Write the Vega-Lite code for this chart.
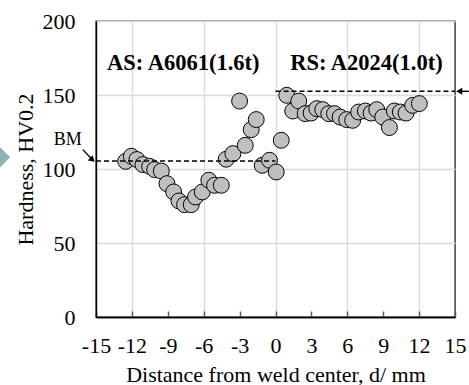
{
  "$schema": "https://vega.github.io/schema/vega-lite/v6.json",
  "width": 359,
  "height": 296,
  "autosize": {"type": "none"},
  "padding": {"left": 96, "top": 21, "right": 14, "bottom": 68},
  "background": "white",
  "config": {
    "font": "Liberation Serif",
    "view": {"stroke": "#333333", "strokeWidth": 1.4},
    "axis": {
      "labelFont": "Liberation Serif",
      "titleFont": "Liberation Serif",
      "labelFontSize": 22,
      "titleFontSize": 22,
      "labelColor": "#000000",
      "titleColor": "#000000",
      "titleFontWeight": "normal",
      "gridColor": "#d9d9d9",
      "gridWidth": 1.3,
      "domainColor": "#000000",
      "domainWidth": 1.4,
      "labelOverlap": false
    }
  },
  "resolve": {"axis": {"x": "independent"}},
  "datasets": {
    "pts": [
      {"d": -12.52, "hv": 105.2}, {"d": -12.05, "hv": 108.6}, {"d": -11.58, "hv": 106.4},
      {"d": -11.08, "hv": 103.0}, {"d": -10.52, "hv": 101.8}, {"d": -10.1, "hv": 99.6},
      {"d": -9.54, "hv": 98.6}, {"d": -9.07, "hv": 90.1}, {"d": -8.51, "hv": 84.5},
      {"d": -8.07, "hv": 78.4}, {"d": -7.6, "hv": 75.9}, {"d": -7.04, "hv": 75.9},
      {"d": -6.68, "hv": 81.1}, {"d": -6.12, "hv": 84.5}, {"d": -5.57, "hv": 92.4},
      {"d": -5.09, "hv": 89.0}, {"d": -4.53, "hv": 89.0}, {"d": -4.12, "hv": 106.6},
      {"d": -3.56, "hv": 110.4}, {"d": -3.0, "hv": 145.9}, {"d": -2.53, "hv": 116.0},
      {"d": -2.03, "hv": 126.6}, {"d": -1.61, "hv": 133.4}, {"d": -1.11, "hv": 102.5},
      {"d": -0.5, "hv": 105.9}, {"d": 0.06, "hv": 98.0}, {"d": 0.48, "hv": 119.4},
      {"d": 0.94, "hv": 149.8}, {"d": 1.44, "hv": 139.2}, {"d": 1.94, "hv": 145.9},
      {"d": 2.48, "hv": 137.4}, {"d": 2.98, "hv": 137.8}, {"d": 3.45, "hv": 140.8},
      {"d": 3.95, "hv": 140.1}, {"d": 4.45, "hv": 137.4}, {"d": 4.93, "hv": 137.4},
      {"d": 5.4, "hv": 135.1}, {"d": 5.95, "hv": 133.4}, {"d": 6.45, "hv": 132.9},
      {"d": 6.95, "hv": 138.5}, {"d": 7.51, "hv": 139.2}, {"d": 7.99, "hv": 137.8},
      {"d": 8.46, "hv": 140.1}, {"d": 8.96, "hv": 135.1}, {"d": 9.52, "hv": 128.0},
      {"d": 9.93, "hv": 139.2}, {"d": 10.43, "hv": 138.5}, {"d": 10.91, "hv": 137.8},
      {"d": 11.46, "hv": 143.0}, {"d": 12.02, "hv": 144.2}
    ],
    "bm": [
      {"d1": -15, "d2": 0, "hv": 105.4},
      {"d1": 0, "d2": 15, "hv": 152.5}
    ],
    "arrows": [
      {"d1": -16.1, "h1": 113.1, "d2": -15.3, "h2": 106.2, "shape": "triangle-right", "ang": 42},
      {"d1": 16.15, "h1": 152.5, "d2": 15.35, "h2": 152.5, "shape": "triangle-left", "ang": 0}
    ],
    "bold": [
      {"d": -7.7, "hv": 171.6, "txt": "AS: A6061(1.6t)"},
      {"d": 7.6, "hv": 171.6, "txt": "RS: A2024(1.0t)"}
    ],
    "bmlabel": [
      {"d": -17.36, "hv": 119.4, "txt": "BM"}
    ],
    "deco": [{"d": -23.2, "hv": 107.9}]
  },
  "layer": [
    {
      "data": {"name": "bm"},
      "mark": {"type": "rule", "color": "#000000", "strokeWidth": 1.4, "strokeDash": [5, 3], "opacity": 0},
      "encoding": {
        "x": {
          "field": "d1", "type": "quantitative",
          "scale": {"domain": [-15, 15], "nice": false, "zero": false},
          "axis": {
            "orient": "bottom",
            "values": [-12, -6, 0, 6, 12],
            "labelExpr": "'' + datum.value",
            "title": null,
            "tickSize": -6,
            "tickColor": "#595959",
            "tickWidth": 1.5,
            "labelPadding": 24,
            "labelOverlap": false,
            "labelFlush": false,
            "labelBound": false
          }
        },
        "x2": {"field": "d2"},
        "y": {"field": "hv", "type": "quantitative"}
      }
    },
    {
      "data": {"name": "pts"},
      "mark": {"type": "point", "shape": "circle", "filled": true, "fill": "#bfbfbf", "stroke": "#000000", "strokeWidth": 1, "size": 254, "opacity": 1},
      "encoding": {
        "x": {
          "field": "d", "type": "quantitative",
          "scale": {"domain": [-15, 15], "nice": false, "zero": false},
          "axis": {
            "orient": "bottom",
            "values": [-15, -9, -3, 3, 9, 15],
            "labelExpr": "'' + datum.value",
            "title": "Distance from weld center, d/ mm",
            "tickSize": -6,
            "tickColor": "#595959",
            "tickWidth": 1.5,
            "labelPadding": 24,
            "titlePadding": 8,
            "labelOverlap": false,
            "labelFlush": false,
            "labelBound": false
          }
        },
        "y": {
          "field": "hv", "type": "quantitative",
          "scale": {"domain": [0, 200], "nice": false},
          "axis": {
            "values": [0, 50, 100, 150, 200],
            "title": "Hardness,  HV0.2",
            "ticks": false,
            "labelPadding": 21,
            "titlePadding": 5,
            "labelFlush": false
          }
        }
      }
    },
    {
      "data": {"name": "bm"},
      "mark": {"type": "rule", "color": "#000000", "strokeWidth": 1.4, "strokeDash": [5, 3]},
      "encoding": {
        "x": {"field": "d1", "type": "quantitative", "axis": null},
        "x2": {"field": "d2"},
        "y": {"field": "hv", "type": "quantitative"}
      }
    },
    {
      "data": {"name": "arrows"},
      "mark": {"type": "rule", "color": "#000000", "strokeWidth": 1.4},
      "encoding": {
        "x": {"field": "d1", "type": "quantitative", "axis": null},
        "x2": {"field": "d2"},
        "y": {"field": "h1", "type": "quantitative"},
        "y2": {"field": "h2"}
      }
    },
    {
      "data": {"name": "arrows"},
      "mark": {"type": "point", "filled": true, "fill": "#000000", "stroke": null, "size": 50, "opacity": 1},
      "encoding": {
        "x": {"field": "d2", "type": "quantitative", "axis": null},
        "y": {"field": "h2", "type": "quantitative"},
        "shape": {"field": "shape", "type": "nominal", "scale": null},
        "angle": {"field": "ang", "type": "quantitative", "scale": null}
      }
    },
    {
      "data": {"name": "bold"},
      "mark": {"type": "text", "font": "Liberation Serif", "fontWeight": "bold", "fontSize": 22.5, "align": "center", "baseline": "middle", "color": "#000000"},
      "encoding": {
        "x": {"field": "d", "type": "quantitative", "axis": null},
        "y": {"field": "hv", "type": "quantitative"},
        "text": {"field": "txt"}
      }
    },
    {
      "data": {"name": "bmlabel"},
      "mark": {"type": "text", "font": "Liberation Serif", "fontSize": 18, "align": "center", "baseline": "middle", "color": "#000000"},
      "encoding": {
        "x": {"field": "d", "type": "quantitative", "axis": null},
        "y": {"field": "hv", "type": "quantitative"},
        "text": {"field": "txt"}
      }
    },
    {
      "data": {"name": "deco"},
      "mark": {"type": "point", "shape": "diamond", "filled": true, "fill": "#8fb1b1", "stroke": null, "size": 600, "opacity": 1},
      "encoding": {
        "x": {"field": "d", "type": "quantitative", "axis": null},
        "y": {"field": "hv", "type": "quantitative"}
      }
    }
  ]
}
